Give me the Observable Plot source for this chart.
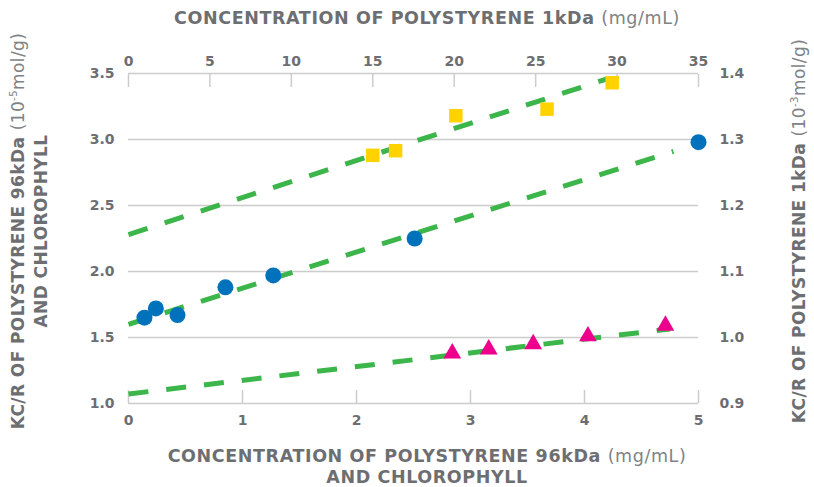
<!DOCTYPE html>
<html><head><meta charset="utf-8">
<script src="https://cdn.jsdelivr.net/npm/d3@7"></script>
<script src="https://cdn.jsdelivr.net/npm/@observablehq/plot@0.6"></script>
<style>
body{margin:0;background:#fff;}
#chart svg{display:block;}
#chart svg text{font-weight:bold;}
</style></head><body><div id="chart"></div>
<script>
// axis domains & ticks
const bottomDomain = [0, 5];
const topDomain = [0, 35];
const leftDomain = [1.0, 3.5];
const rightDomain = [0.9, 1.4];
const bottomTicks = [0, 1, 2, 3, 4, 5];
const topTicks = [0, 5, 10, 15, 20, 25, 30, 35];
const leftTicks = [1.0, 1.5, 2.0, 2.5, 3.0, 3.5];
const rightTicks = [0.9, 1.0, 1.1, 1.2, 1.3, 1.4];

// Polystyrene 96kDa (bottom x, left y)
const ps96X = [0.14, 0.24, 0.43, 0.85, 1.27, 2.51, 5.0];
const ps96Y = [1.65, 1.72, 1.67, 1.88, 1.97, 2.25, 2.98];
// Chlorophyll (bottom x, left y)
const chlX = [2.84, 3.16, 3.55, 4.03, 4.71];
const chlY = [1.38, 1.41, 1.45, 1.51, 1.59];
// Polystyrene 1kDa (top x, right y)
const ps1X = [15.0, 16.4, 20.1, 25.7, 29.7];
const ps1Y = [1.276, 1.283, 1.336, 1.346, 1.386];

// fitted trend lines (endpoints)
const ps96TrendX = [0, 4.78], ps96TrendY = [1.60, 2.91];
const chlTrendX = [0, 4.75], chlTrendY = [1.072, 1.565];
const ps1TrendX = [0, 29.4], ps1TrendY = [1.156, 1.392];

const topToX = d3.scaleLinear(topDomain, bottomDomain);
const rightToY = d3.scaleLinear(rightDomain, leftDomain);

const ps96 = ps96X.map((x, i) => ({x, y: ps96Y[i]}));
const chl = chlX.map((x, i) => ({x, y: chlY[i]}));
const ps1 = ps1X.map((x, i) => ({x: topToX(x), y: rightToY(ps1Y[i])}));
const ps96Trend = ps96TrendX.map((x, i) => ({x, y: ps96TrendY[i]}));
const chlTrend = chlTrendX.map((x, i) => ({x, y: chlTrendY[i]}));
const ps1Trend = ps1TrendX.map((x, i) => ({x: topToX(x), y: rightToY(ps1TrendY[i])}));

const GRID = "#cccccc", TXT = "#6d6e71", GREEN = "#3cb54a";
const dash = "20,18";

const plot = Plot.plot({
  width: 814, height: 487,
  marginLeft: 128, marginRight: 116, marginTop: 73, marginBottom: 84,
  x: {domain: bottomDomain},
  y: {domain: leftDomain},
  style: {fontFamily: "DejaVu Sans", fontSize: "14px", color: TXT, background: "#fff"},
  marks: [
    Plot.gridY(leftTicks, {stroke: GRID, strokeOpacity: 1, strokeWidth: 1.5}),
    Plot.axisX(bottomTicks, {anchor: "bottom", tickSize: -13, tickPadding: 25, stroke: GRID, strokeWidth: 1.5, fill: TXT, label: null,
      fontSize: 14, tickFormat: d3.format("d")}),
    Plot.axisX(topTicks.map(topToX), {anchor: "top", tickSize: -13, tickPadding: 21, stroke: GRID, strokeWidth: 1.5, fill: TXT, label: null,
      fontSize: 14, tickFormat: d => d3.format("d")(Math.round(topToX.invert(d)))}),
    Plot.axisY(leftTicks, {anchor: "left", tickSize: 0, tickPadding: 14, fill: TXT, label: null, fontSize: 14, tickFormat: d3.format(".1f")}),
    Plot.axisY(rightTicks.map(rightToY), {anchor: "right", tickSize: 0, tickPadding: 21, fill: TXT, label: null, fontSize: 14,
      tickFormat: d => d3.format(".1f")(rightToY.invert(d))}),
    Plot.line(ps1Trend, {x: "x", y: "y", stroke: GREEN, strokeWidth: 5, strokeDasharray: dash, strokeLinecap: "butt"}),
    Plot.line(ps96Trend, {x: "x", y: "y", stroke: GREEN, strokeWidth: 5, strokeDasharray: dash, strokeLinecap: "butt"}),
    Plot.line(chlTrend, {x: "x", y: "y", stroke: GREEN, strokeWidth: 5, strokeDasharray: dash, strokeLinecap: "butt"}),
    Plot.dot(ps96, {x: "x", y: "y", r: 8, fill: "#0072bc", stroke: "none"}),
    Plot.dot(ps1, {x: "x", y: "y", r: 7.6, symbol: "square", fill: "#ffd200", stroke: "none"}),
    Plot.dot(chl, {x: "x", y: "y", r: 6.6, symbol: "triangle", fill: "#ec008c", stroke: "none"})
  ]
});
document.getElementById("chart").appendChild(plot);

// axis titles with mixed weights
const svg = d3.select(plot);
function title(x, y, rotate, parts, size = 17.5, ls = 0.6) {
  const t = svg.append("text")
    .attr("transform", `translate(${x},${y}) rotate(${rotate})`)
    .attr("text-anchor", "middle")
    .attr("fill", TXT)
    .style("font-family", "DejaVu Sans")
    .style("font-size", size + "px")
    .style("letter-spacing", ls + "px");
  for (const p of parts) {
    const s = t.append("tspan").text(p.text).style("font-weight", p.bold ? "bold" : "normal");
    if (p.sup) s.style("font-size", (size * 0.6) + "px").attr("dy", -7);
    if (p.after) s.attr("dy", 7);
    if (p.light) s.attr("fill", "#808285");
  }
  return t;
}
title(427, 23.5, 0, [{text: "CONCENTRATION OF POLYSTYRENE 1kDa ", bold: true}, {text: "(mg/mL)", light: true}]);
title(427, 462, 0, [{text: "CONCENTRATION OF POLYSTYRENE 96kDa ", bold: true}, {text: "(mg/mL)", light: true}]);
title(427, 483, 0, [{text: "AND CHLOROPHYLL", bold: true}]);
title(24, 231, -90, [{text: "KC/R OF POLYSTYRENE 96kDa ", bold: true}, {text: "(10", light: true}, {text: "-5", sup: true, light: true}, {text: "mol/g)", after: true, light: true}], 17, 0.4);
title(47, 231, -90, [{text: "AND CHLOROPHYLL", bold: true}], 17, 0.4);
title(805, 231, -90, [{text: "KC/R OF POLYSTYRENE 1kDa ", bold: true}, {text: "(10", light: true}, {text: "-3", sup: true, light: true}, {text: "mol/g)", after: true, light: true}], 17, 0.4);
</script></body></html>
